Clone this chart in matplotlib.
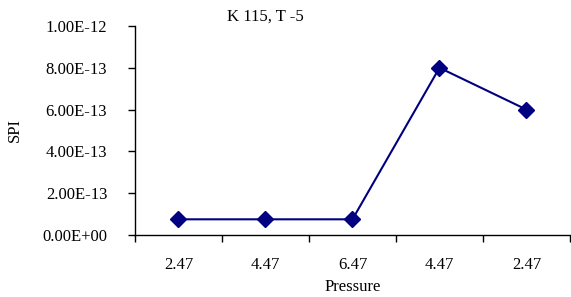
import numpy as np
import matplotlib.pyplot as plt
from matplotlib.ticker import FixedLocator, NullFormatter

# data
pressure_labels = ["2.47", "4.47", "6.47", "4.47", "2.47"]
spi_values = [7.5e-14, 7.5e-14, 7.5e-14, 8.0e-13, 6.0e-13]
y_ticks = [0.0, 2e-13, 4e-13, 6e-13, 8e-13, 1e-12]
y_tick_labels = ["0.00E+00", "2.00E-13", "4.00E-13", "6.00E-13", "8.00E-13", "1.00E-12"]

plt.rcParams['font.family'] = ['Liberation Serif', 'DejaVu Serif']

fig = plt.figure(figsize=(5.71, 2.97), dpi=100)
ax = fig.add_axes([0.2364, 0.2088, 0.7618, 0.7037])

x = np.arange(len(spi_values))
ax.plot(x, spi_values, color='#000080', linewidth=1.5, marker='D',
        markersize=8, markerfacecolor='#000080', markeredgecolor='#000080')

ax.set_xlim(-0.5, len(spi_values) - 0.5)
ax.set_ylim(0, 1e-12)

# boundary ticks (major) and labelled category centres (minor)
ax.xaxis.set_major_locator(FixedLocator(np.arange(-0.5, len(spi_values), 1.0)))
ax.xaxis.set_major_formatter(NullFormatter())
ax.set_xticks(x, minor=True)
ax.set_xticklabels(pressure_labels, minor=True)
ax.tick_params(axis='x', which='major', direction='out', length=5, width=1)
ax.tick_params(axis='x', which='minor', length=0, pad=16, labelsize=12)

ax.set_yticks(y_ticks)
ax.set_yticklabels(y_tick_labels)
ax.tick_params(axis='y', direction='out', length=5, width=1, labelsize=12, pad=15)

for side in ['top', 'right']:
    ax.spines[side].set_visible(False)
for side in ['left', 'bottom']:
    ax.spines[side].set_linewidth(1)

ax.set_xlabel("Pressure", fontsize=12, labelpad=4)
ax.set_ylabel("SPI", fontsize=12, labelpad=14)
fig.text(0.465, 0.945, "K 115, T -5", fontsize=12, ha='center', va='center')

fig.savefig("out.png", dpi=100)
